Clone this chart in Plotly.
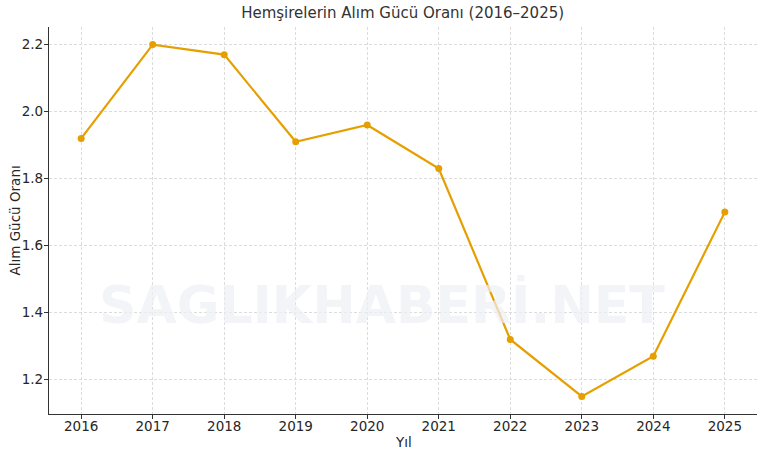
import plotly.graph_objects as go

years = [2016, 2017, 2018, 2019, 2020, 2021, 2022, 2023, 2024, 2025]
ratios = [1.92, 2.20, 2.17, 1.91, 1.96, 1.83, 1.32, 1.15, 1.27, 1.70]

title = "Hemşirelerin Alım Gücü Oranı (2016–2025)"
xlabel = "Yıl"
ylabel = "Alım Gücü Oranı"

font = "DejaVu Sans"
fig = go.Figure()
fig.add_trace(go.Scatter(
    x=years, y=ratios, mode="lines+markers",
    line=dict(color="#E69F00", width=2.2),
    marker=dict(color="#E69F00", size=7),
    showlegend=False,
))

fig.add_annotation(
    text="<b>SAGLIKHABERİ.NET</b>", xref="paper", yref="paper",
    x=0.47, y=0.2, showarrow=False,
    font=dict(family=font, size=52, color="rgba(238,240,244,0.7)"),
)
fig.add_annotation(
    text=ylabel, xref="paper", yref="paper", x=-0.0494, y=0.5,
    xanchor="center", yanchor="middle", textangle=-90, showarrow=False,
    font=dict(family=font, size=13.5, color="#262626"),
)
fig.add_annotation(
    text=xlabel, xref="paper", yref="paper", x=0.501, y=-0.0724,
    xanchor="center", yanchor="middle", showarrow=False,
    font=dict(family=font, size=13.5, color="#262626"),
)

fig.update_layout(
    width=764, height=456,
    margin=dict(l=49, r=7, t=27, b=42),
    paper_bgcolor="white", plot_bgcolor="white",
    font=dict(family=font, size=13.5, color="#262626"),
    title=dict(text=title, x=0.527, xanchor="center", y=0.984, yanchor="top",
               font=dict(family=font, size=15, color="#333333")),
    xaxis=dict(
        range=[2015.55, 2025.45], tickmode="array", tickvals=years,
        ticktext=[str(y) for y in years],
        showgrid=True, gridcolor="#dcdcdc", griddash="3px,2px", gridwidth=0.8,
        showline=True, linecolor="#333333", linewidth=1.2,
        ticks="outside", ticklen=4, tickcolor="#333333",
        ticklabelstandoff=-4,
        zeroline=False, automargin=False,
    ),
    yaxis=dict(
        range=[1.0975, 2.2525], tickmode="array",
        tickvals=[1.2, 1.4, 1.6, 1.8, 2.0, 2.2],
        ticktext=["1.2", "1.4", "1.6", "1.8", "2.0", "2.2"],
        showgrid=True, gridcolor="#dcdcdc", griddash="3px,2px", gridwidth=0.8,
        showline=True, linecolor="#333333", linewidth=1.2,
        ticks="outside", ticklen=4, tickcolor="#333333",
        ticklabelstandoff=-2,
        zeroline=False, automargin=False,
    ),
)

fig.write_html("out.html", config={"displayModeBar": False},
               post_script="document.body.style.margin='0';")
